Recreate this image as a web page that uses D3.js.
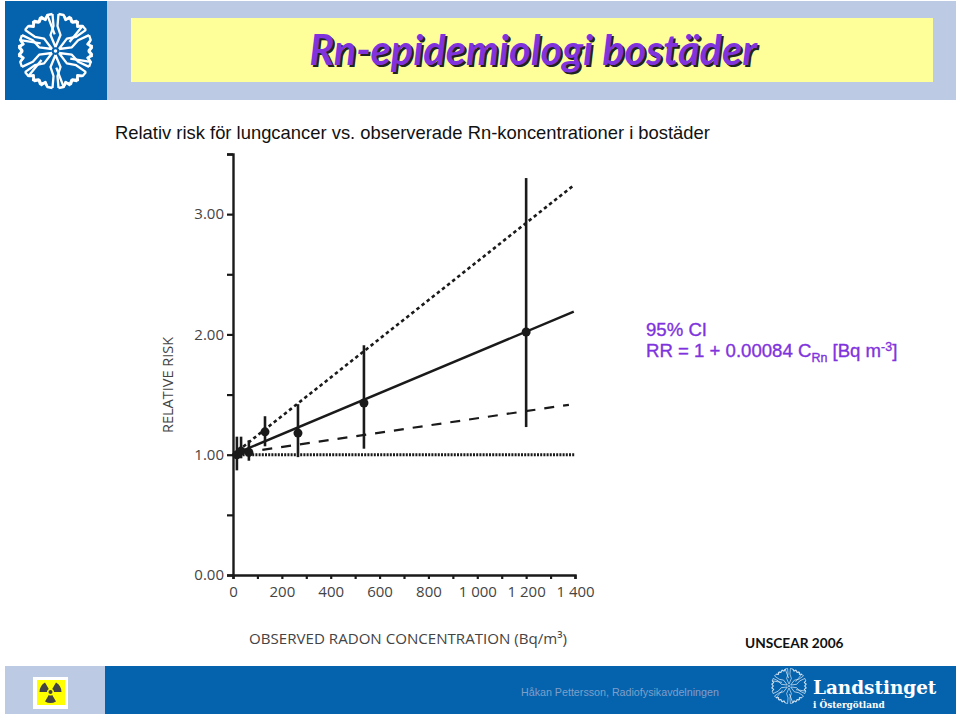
<!DOCTYPE html>
<html>
<head>
<meta charset="utf-8">
<script src="https://cdn.jsdelivr.net/npm/d3@7"></script>
<style>
    html, body { margin: 0; padding: 0; background: #fff; }
    svg { display: block; }
    text { font-family: "Open Sans", sans-serif; }
</style>
</head>
<body>
<svg id="slide" width="960" height="716"></svg>
<script>
// values
const xTicks = [0, 100, 200, 300, 400, 500, 600, 700, 800, 900, 1000, 1100, 1200, 1300, 1400];
const xTickLabels = ["0", "", "200", "", "400", "", "600", "", "800", "", "1 000", "", "1 200", "", "1 400"];
const yTicks = [0, 0.5, 1, 1.5, 2, 2.5, 3, 3.5];
const yTickLabels = ["0.00", "", "1.00", "", "2.00", "", "3.00", ""];

const obsRadon = [16, 33, 65, 131, 266, 536, 1200];
const obsRisk = [1.0, 1.03, 1.02, 1.19, 1.18, 1.43, 2.02];
const ciLow = [0.87, 0.97, 0.95, 1.07, 0.98, 1.05, 1.23];
const ciHigh = [1.15, 1.15, 1.12, 1.32, 1.42, 1.91, 3.30];

const fitX = [0, 1395];
const fitY = [1, 2.19];
const upperX = [0, 1395];
const upperY = [1, 3.24];
const lowerX = [120, 1375];
const lowerY = [1.04, 1.415];
const baseX = [0, 1400];
const baseY = [1, 1];

const svg = d3.select("#slide");
const ink = "#1a1a1a";
const blue = "#0563ae";
const pale = "#bccae3";
const purple = "#8033dd";

// header and footer bands
function band(x, y, w, h, fill) {
    svg.append("rect").attr("x", x).attr("y", y).attr("width", w).attr("height", h).attr("fill", fill);
}
band(107, 1, 849, 99, pale);
band(131, 18, 802, 64, "#ffff99");
band(5, 1, 102, 99, blue);
band(5, 666, 100, 48, pale);
band(105, 666, 851, 48, blue);

// the county flower, six petals inside a jagged ring
function flower(cx, cy, r, sw) {
    const g = svg.append("g").attr("transform", `translate(${cx},${cy})`)
        .attr("fill", "none").attr("stroke", "#fff").attr("stroke-width", sw)
        .attr("stroke-linejoin", "round");
    const k = r / 38;
    d3.range(6).forEach(i => {
        const p = g.append("g").attr("transform", `rotate(${i * 60}) scale(${k})`);
        p.append("path").attr("d", "M0,-4 L-5,-16 L-2,-25 L-3,-37 M0,-4 L5,-16 L2,-25 L3,-37");
        p.append("path").attr("d", "M3,-37 L8,-36 L10,-31 L14,-34 L16,-29 L21,-30 L22,-25 L27,-25 L14,-9");
        p.append("path").attr("d", "M-3,-37 L-8,-36 L-10,-31 L-14,-34 L-16,-29 L-21,-30 L-22,-25 L-27,-25");
    });
    g.append("circle").attr("r", 1.8 * k).attr("fill", "#fff").attr("stroke", "none");
}
flower(55.5, 51, 38, 2.3);
flower(789, 686, 18, 1.2);

// radiation sign
band(33, 677, 35, 32, "#fff");
band(37, 680, 28, 25, "#ffff00");
const sign = svg.append("g").attr("transform", "translate(50.5,692)");
const blade = d3.arc().innerRadius(3.5).outerRadius(11);
[0, 120, 240].forEach(a => {
    sign.append("path")
        .attr("d", blade({startAngle: (a - 30) * Math.PI / 180, endAngle: (a + 30) * Math.PI / 180}))
        .attr("transform", "rotate(180)")
        .attr("fill", "#444");
});
sign.append("circle").attr("r", 2).attr("fill", "#444");

// title with its hard shadow
svg.append("text").attr("x", 533).attr("y", 65)
    .attr("text-anchor", "middle")
    .attr("fill", purple)
    .style("font-family", "Lato, 'Open Sans', sans-serif")
    .style("font-size", "41.5px").style("font-weight", 700).style("font-style", "italic")
    .style("text-shadow", "2px 2px 0 #222")
    .text("Rn-epidemiologi bostäder");

svg.append("text").attr("x", 115).attr("y", 139)
    .style("font-family", "'Liberation Sans', sans-serif").style("font-size", "18.4px").attr("fill", "#111")
    .text("Relativ risk för lungcancer vs. observerade Rn-koncentrationer i bostäder");

// chart
const x = d3.scaleLinear().domain([0, 1400]).range([233, 575]);
const y = d3.scaleLinear().domain([0, 3.5]).range([575, 154]);

const xAxis = svg.append("g").attr("transform", `translate(0,${y(0)})`)
    .call(d3.axisBottom(x).tickValues(xTicks).tickSize(4).tickPadding(7)
        .tickFormat((d, i) => xTickLabels[i]));
const yAxis = svg.append("g").attr("transform", `translate(${x(0)},0)`)
    .call(d3.axisLeft(y).tickValues(yTicks).tickSize(6).tickPadding(3)
        .tickFormat((d, i) => yTickLabels[i]));
[xAxis, yAxis].forEach(a => {
    a.select(".domain").attr("stroke", ink).attr("stroke-width", 2.4);
    a.selectAll(".tick line").attr("stroke", ink).attr("stroke-width", 2.2);
    a.selectAll(".tick text").attr("fill", "#444").style("font-size", "15px")
        .style("font-family", "'Open Sans', sans-serif");
});

const line = d3.line().x(d => x(d[0])).y(d => y(d[1]));
function trend(xs, ys, dash, width) {
    svg.append("path").attr("d", line(d3.zip(xs, ys)))
        .attr("fill", "none").attr("stroke", ink)
        .attr("stroke-width", width).attr("stroke-dasharray", dash);
}
trend(baseX, baseY, "2 1.2", 3);
trend(fitX, fitY, null, 2.4);
trend(upperX, upperY, "3.5 3", 2.6);
trend(lowerX, lowerY, "10 9", 2.2);

svg.append("g").selectAll("line").data(obsRadon).join("line")
    .attr("x1", d => x(d)).attr("x2", d => x(d))
    .attr("y1", (d, i) => y(ciLow[i])).attr("y2", (d, i) => y(ciHigh[i]))
    .attr("stroke", ink).attr("stroke-width", 2.6);
svg.append("g").selectAll("circle").data(obsRadon).join("circle")
    .attr("cx", d => x(d)).attr("cy", (d, i) => y(obsRisk[i])).attr("r", 4.5)
    .attr("fill", ink);

// axis names
svg.append("text").attr("transform", "translate(173,385) rotate(-90)")
    .attr("text-anchor", "middle").attr("fill", "#444")
    .style("font-size", "14.5px").text("RELATIVE RISK");
svg.append("text").attr("x", 408).attr("y", 644)
    .attr("text-anchor", "middle").attr("fill", "#444")
    .style("font-size", "15.1px").text("OBSERVED RADON CONCENTRATION (Bq/m³)");

// annotation
const note = svg.append("g").attr("fill", purple).attr("stroke", purple).attr("stroke-width", 0.35);
note.append("text").attr("x", 646).attr("y", 336)
    .style("font-family", "'Liberation Sans', sans-serif").style("font-size", "18.6px").text("95% CI");
const eq = note.append("text").attr("x", 646).attr("y", 357)
    .style("font-family", "'Liberation Sans', sans-serif").style("font-size", "18.6px");
eq.append("tspan").text("RR = 1 + 0.00084 C");
eq.append("tspan").attr("dy", 5).style("font-size", "12.5px").text("Rn");
eq.append("tspan").attr("dy", -5).text(" [Bq m");
eq.append("tspan").attr("dy", -6).style("font-size", "12.5px").text("-3");
eq.append("tspan").attr("dy", 6).text("]");

svg.append("text").attr("x", 745).attr("y", 648).attr("fill", "#111")
    .style("font-family", "Lato, sans-serif").style("font-size", "13.7px").style("font-weight", 700)
    .text("UNSCEAR 2006");

// footer texts
svg.append("text").attr("x", 521).attr("y", 696).attr("fill", "#7f9fc9")
    .style("font-family", "'Liberation Sans', sans-serif").style("font-size", "10.7px")
    .text("Håkan Pettersson, Radiofysikavdelningen");
svg.append("text").attr("x", 813).attr("y", 694).attr("fill", "#fff")
    .style("font-family", "'DejaVu Serif', serif").style("font-size", "18.4px").style("font-weight", 700)
    .text("Landstinget");
svg.append("text").attr("x", 813).attr("y", 708).attr("fill", "#fff")
    .style("font-family", "'DejaVu Serif', serif").style("font-size", "8.9px").style("font-weight", 700)
    .text("i Östergötland");
</script>
</body>
</html>
